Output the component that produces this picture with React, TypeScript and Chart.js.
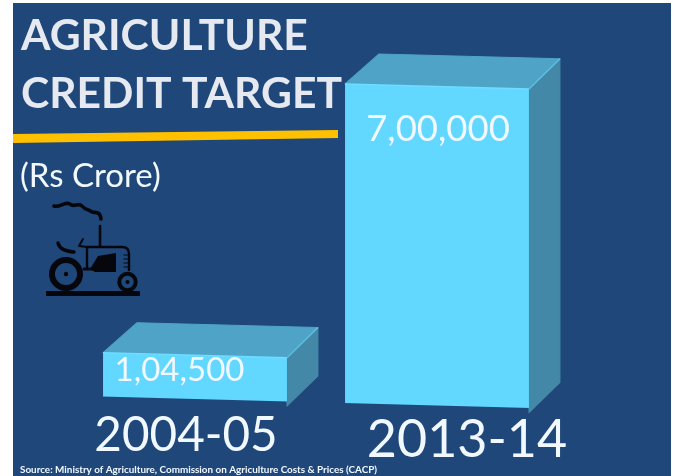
import React, { useEffect, useRef } from "react";
import { Chart, registerables } from "chart.js";

Chart.register(...registerables);

const categories = ["2004-05", "2013-14"];
const creditTargets = [104500, 700000];
const valueLabels = ["1,04,500", "7,00,000"];
const titleLines = ["AGRICULTURE", "CREDIT TARGET"];
const unitLabel = "(Rs Crore)";
const sourceNote = "Source: Ministry of Agriculture, Commission on Agriculture Costs & Prices (CACP)";

const FONT = "Lato, 'Open Sans', sans-serif";
const SKEW = 0.0272;
const SKEW_X0 = 345;
const COLORS = {
  panel: "#1F477A",
  front: "#62D7FF",
  edge: "#6FDDFF",
  topEdge: "#5CC2E6",
  top: "#4FA3C7",
  side: "#4488A8",
  rule: "#FFC000",
  title: "#E6E9F0",
  text: "#F1F9FF",
  ink: "#05070C",
};

const valueLabelStyle = [
  { dx: -15.5, baseline: 381, size: 33 },
  { dx: 1, baseline: 141, size: 36.5 },
];
const yearStyle = [
  { x: 186, baseline: 451, size: 47.6 },
  { x: 467, baseline: 457, size: 52 },
];

function drawTractor(c: CanvasRenderingContext2D) {
  c.save();
  c.fillStyle = COLORS.ink;
  c.strokeStyle = COLORS.ink;
  c.lineCap = "round";
  c.lineJoin = "round";
  // ground
  c.fillRect(46, 291, 94, 5);
  // smoke
  c.lineWidth = 3.6;
  c.beginPath();
  c.moveTo(54, 206);
  c.bezierCurveTo(60, 208, 64, 201, 70, 204);
  c.bezierCurveTo(74, 208, 78, 202, 82, 206);
  c.bezierCurveTo(86, 211, 90, 209, 92, 212);
  c.bezierCurveTo(96, 213, 100, 211, 101, 219);
  c.stroke();
  // stack
  c.lineWidth = 2.6;
  c.beginPath();
  c.moveTo(100, 226);
  c.lineTo(100, 246);
  c.stroke();
  // hood outline
  c.lineWidth = 2.4;
  c.beginPath();
  c.moveTo(87, 268);
  c.lineTo(87, 247);
  c.lineTo(122, 247);
  c.quadraticCurveTo(129, 247, 129, 254);
  c.lineTo(129, 270);
  c.stroke();
  // cab block
  c.beginPath();
  c.moveTo(90, 269);
  c.lineTo(98, 256);
  c.lineTo(116, 253);
  c.lineTo(116, 272);
  c.lineTo(95, 272);
  c.closePath();
  c.fill();
  // body link
  c.lineWidth = 3;
  c.beginPath();
  c.moveTo(84, 269);
  c.lineTo(114, 269);
  c.stroke();
  // grille
  c.lineWidth = 1.2;
  [255, 259, 263, 267].forEach((y) => {
    c.beginPath();
    c.moveTo(124, y);
    c.lineTo(129, y);
    c.stroke();
  });
  // seat
  c.lineWidth = 3.5;
  c.beginPath();
  c.moveTo(58, 243);
  c.quadraticCurveTo(60, 251, 74, 252);
  c.stroke();
  c.lineWidth = 2;
  c.beginPath();
  c.moveTo(79, 246);
  c.lineTo(83, 239);
  c.moveTo(79, 246);
  c.lineTo(87, 247);
  c.stroke();
  // wheels
  c.lineWidth = 6;
  c.beginPath();
  c.arc(66, 274, 14, 0, Math.PI * 2);
  c.stroke();
  c.beginPath();
  c.arc(66, 274, 2.2, 0, Math.PI * 2);
  c.fill();
  c.lineWidth = 4;
  c.beginPath();
  c.arc(127.5, 282, 8.2, 0, Math.PI * 2);
  c.stroke();
  c.beginPath();
  c.arc(127.5, 282, 2, 0, Math.PI * 2);
  c.fill();
  c.restore();
}

const slidePlugin = {
  id: "slide",
  beforeDraw(chart: any) {
    const c: CanvasRenderingContext2D = chart.ctx;
    c.save();
    c.fillStyle = COLORS.panel;
    c.fillRect(13, 3, 658, 473);
    c.fillStyle = COLORS.rule;
    c.beginPath();
    c.moveTo(13, 134);
    c.lineTo(338, 130);
    c.lineTo(338, 138);
    c.lineTo(13, 143);
    c.closePath();
    c.fill();
    c.fillStyle = COLORS.title;
    c.textAlign = "left";
    c.textBaseline = "alphabetic";
    c.font = `700 42.6px ${FONT}`;
    c.fillText(titleLines[0], 21, 50);
    c.fillText(titleLines[1], 21, 108);
    c.fillStyle = COLORS.text;
    c.font = `400 33px ${FONT}`;
    c.fillText(unitLabel, 20, 187);
    drawTractor(c);
    c.fillStyle = COLORS.text;
    c.font = `700 9.9px ${FONT}`;
    c.fillText(sourceNote, 20, 473);
    c.restore();
  },
  beforeDatasetsDraw(chart: any) {
    const c: CanvasRenderingContext2D = chart.ctx;
    c.save();
    c.transform(1, SKEW, 0, 1, 0, -SKEW * SKEW_X0);
    chart.getDatasetMeta(0).data.forEach((bar: any) => {
      const l = bar.x - bar.width / 2;
      const r = bar.x + bar.width / 2;
      const t = bar.y;
      const b = bar.base;
      const backL = l + 34;
      const backR = r + 31;
      const up = 31;
      c.lineJoin = "round";
      c.lineWidth = 1;
      c.fillStyle = COLORS.top;
      c.strokeStyle = COLORS.top;
      c.beginPath();
      c.moveTo(l, t);
      c.lineTo(backL, t - up);
      c.lineTo(backR, t - up);
      c.lineTo(r, t);
      c.closePath();
      c.fill();
      c.stroke();
      c.fillStyle = COLORS.side;
      c.strokeStyle = COLORS.side;
      c.beginPath();
      c.moveTo(r, t);
      c.lineTo(backR, t - up);
      c.lineTo(backR, b - up);
      c.lineTo(r, b);
      c.closePath();
      c.fill();
      c.stroke();
    });
  },
  afterDatasetsDraw(chart: any) {
    const c: CanvasRenderingContext2D = chart.ctx;
    const bars = chart.getDatasetMeta(0).data;
    bars.forEach((bar: any) => {
      const l = bar.x - bar.width / 2;
      const r = bar.x + bar.width / 2;
      c.strokeStyle = COLORS.edge;
      c.lineWidth = 1.4;
      c.beginPath();
      c.moveTo(l, bar.y);
      c.lineTo(r, bar.y);
      c.stroke();
      c.strokeStyle = COLORS.topEdge;
      c.beginPath();
      c.moveTo(r, bar.y);
      c.lineTo(r + 31, bar.y - 31);
      c.stroke();
    });
    c.restore();
    c.save();
    c.textAlign = "center";
    c.textBaseline = "alphabetic";
    c.fillStyle = COLORS.text;
    bars.forEach((bar: any, i: number) => {
      const v = valueLabelStyle[i];
      c.font = `400 ${v.size}px ${FONT}`;
      c.fillText(valueLabels[i], bar.x + v.dx, v.baseline);
      const y = yearStyle[i];
      c.font = `400 ${y.size}px ${FONT}`;
      c.fillText(chart.data.labels[i], y.x, y.baseline);
    });
    c.restore();
  },
};

export default function App() {
  const ref = useRef<HTMLCanvasElement>(null);
  useEffect(() => {
    document.body.style.margin = "0";
    document.body.style.background = "#ffffff";
    const chart = new Chart(ref.current!, {
      type: "bar",
      data: {
        labels: categories,
        datasets: [
          {
            data: creditTargets,
            backgroundColor: COLORS.front,
            borderWidth: 0,
            barPercentage: 0.76,
            categoryPercentage: 1,
          },
        ],
      },
      options: {
        responsive: false,
        animation: false,
        devicePixelRatio: 1,
        layout: { padding: { left: 74, right: 119, top: 84, bottom: 73 } },
        plugins: { legend: { display: false }, tooltip: { enabled: false } },
        scales: {
          x: { display: false },
          y: { display: false, min: 10000, max: 700000 },
        },
      },
      plugins: [slidePlugin],
    });
    return () => chart.destroy();
  }, []);
  return <canvas ref={ref} width={677} height={476} style={{ display: "block" }} />;
}
